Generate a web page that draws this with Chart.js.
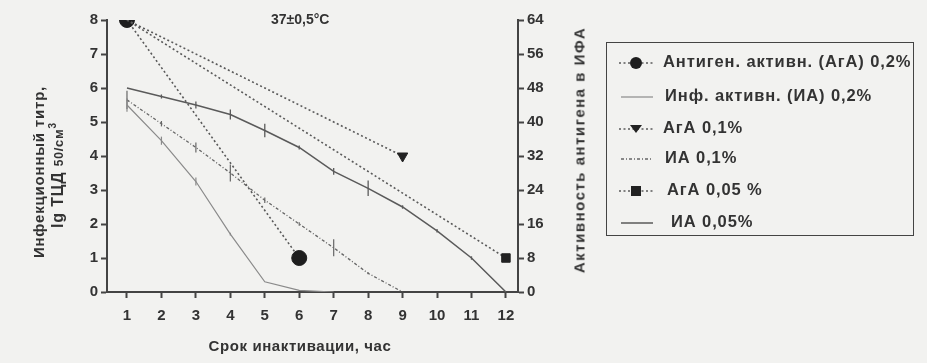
<!DOCTYPE html>
<html>
<head>
<meta charset="utf-8">
<script src="https://cdn.jsdelivr.net/npm/chart.js@4/dist/chart.umd.min.js"></script>
<style>
  html, body { margin: 0; padding: 0; background: #f2f2f0; }
  #wrap { position: relative; width: 927px; height: 363px; overflow: hidden; font-family: "Liberation Sans", Arial, sans-serif; color: #333; }
  #c { position: absolute; left: 0; top: 0; }
  .txt { position: absolute; font-weight: bold; white-space: nowrap; }
  .rot { transform-origin: center center; transform: translate(-50%, -50%) rotate(-90deg); }
  #legend { position: absolute; left: 606px; top: 42px; width: 306px; height: 192px; border: 1.5px solid #444; }
  .row { position: absolute; left: 0; height: 20px; }
  .row svg { position: absolute; left: 10px; top: 0; }
  .row span { position: absolute; left: 58px; top: -1px; font-size: 16.5px; letter-spacing: 0.9px; font-weight: bold; white-space: nowrap; color: #333; }
</style>
</head>
<body>
<div id="wrap">
  <canvas id="c" width="927" height="363"></canvas>
  <div class="txt" style="left:271px; top:11px; font-size:14px;">37±0,5°C</div>
  <div class="txt rot" style="left:38px; top:172px; font-size:15px; letter-spacing:0.8px;">Инфекционный титр,</div>
  <div class="txt rot" style="left:57px; top:175px; font-size:16px; letter-spacing:0.8px;">lg ТЦД <span style="font-size:12px;">50</span><span style="font-size:13px;">/см</span><sup style="font-size:10px;">3</sup></div>
  <div class="txt rot" style="left:579px; top:150px; font-size:15px; letter-spacing:1.5px;">Активность антигена в ИФА</div>
  <div class="txt" style="left:300px; top:345px; transform: translate(-50%, -50%); font-size:15px; letter-spacing:0.6px;">Срок инактивации, час</div>
  <div id="legend"></div>
</div>
<script>
// Hours of inactivation (x axis)
const hours = [1, 2, 3, 4, 5, 6, 7, 8, 9, 10, 11, 12];
const xTickLabels = ['1', '2', '3', '4', '5', '6', '7', '8', '9', '10', '11', '12'];

// Infectious titre, lg TCD50/cm3 (left axis) and the spread shown at each point
const ia02 = [5.5, 4.45, 3.25, 1.7, 0.3, 0.05, 0];
const ia02Err = [0.2, 0.12, 0.12, 0.04, 0, 0, 0];
const ia01 = [5.65, 4.95, 4.25, 3.5, 2.7, 2.0, 1.3, 0.55, 0];
const ia01Err = [0.27, 0.08, 0.15, 0.25, 0.08, 0.05, 0.25, 0.03, 0];
const ia005 = [6.0, 5.75, 5.5, 5.22, 4.75, 4.25, 3.55, 3.05, 2.5, 1.8, 1.0, 0];
const ia005Err = [0, 0.06, 0.1, 0.15, 0.2, 0.06, 0.1, 0.23, 0.05, 0.05, 0.05, 0];

// Antigen activity in ELISA (right axis): first and last measurement
const aga02Hours = [1, 6];
const aga02 = [64, 8];
const aga01Hours = [1, 9];
const aga01 = [64, 32];
const aga005Hours = [1, 12];
const aga005 = [64, 8];

const leftTicks = [0, 1, 2, 3, 4, 5, 6, 7, 8];
const rightTicks = [0, 8, 16, 24, 32, 40, 48, 56, 64];

const labels = [
  'Антиген. активн. (АгА) 0,2%',
  'Инф. активн. (ИА) 0,2%',
  'АгА 0,1%',
  'ИА 0,1%',
  'АгА 0,05 %',
  'ИА 0,05%'
];

const PX_PER_UNIT = 34;
const pts = (xs, ys) => ys.map((y, i) => ({ x: xs[i], y }));
const errRadius = errs => errs.map(e => e * PX_PER_UNIT);

const dark = '#444';
const mid = '#5a5a5a';

const datasets = [
  {
    label: labels[1], data: pts(hours, ia02), yAxisID: 'yL',
    borderColor: '#8a8a8a', borderWidth: 1.2,
    pointStyle: 'line', rotation: 90, pointRadius: errRadius(ia02Err),
    pointBorderColor: '#8a8a8a', pointBorderWidth: 1.2
  },
  {
    label: labels[3], data: pts(hours, ia01), yAxisID: 'yL',
    borderColor: '#666', borderWidth: 1.3, borderDash: [3, 2, 1, 2],
    pointStyle: 'line', rotation: 90, pointRadius: errRadius(ia01Err),
    pointBorderColor: '#666', pointBorderWidth: 1.2
  },
  {
    label: labels[5], data: pts(hours, ia005), yAxisID: 'yL',
    borderColor: mid, borderWidth: 1.5,
    pointStyle: 'line', rotation: 90, pointRadius: errRadius(ia005Err),
    pointBorderColor: mid, pointBorderWidth: 1.3
  },
  {
    label: labels[2], data: pts(aga01Hours, aga01), yAxisID: 'yR',
    borderColor: mid, borderWidth: 1.6, borderDash: [2, 2.5],
    pointStyle: 'triangle', rotation: 180, pointRadius: [0, 6],
    pointBackgroundColor: '#222', pointBorderColor: '#222', pointBorderWidth: 1
  },
  {
    label: labels[4], data: pts(aga005Hours, aga005), yAxisID: 'yR',
    borderColor: mid, borderWidth: 1.6, borderDash: [2, 2.5],
    pointStyle: 'rect', pointRadius: [0, 6],
    pointBackgroundColor: '#222', pointBorderColor: '#222', pointBorderWidth: 1
  },
  {
    label: labels[0], data: pts(aga02Hours, aga02), yAxisID: 'yR',
    borderColor: mid, borderWidth: 1.6, borderDash: [2, 2.5],
    pointStyle: 'circle', pointRadius: 7.5,
    pointBackgroundColor: '#1e1e1e', pointBorderColor: '#1e1e1e', pointBorderWidth: 1
  }
];

const tickFont = { family: 'Liberation Sans, Arial, sans-serif', size: 15, weight: 'bold' };
const rightFont = { family: 'Liberation Sans, Arial, sans-serif', size: 15, weight: 'bold' };

new Chart(document.getElementById('c'), {
  type: 'line',
  data: { datasets },
  options: {
    responsive: false,
    animation: false,
    events: [],
    layout: { padding: { left: 0, right: 0, top: 20, bottom: 0 } },
    plugins: { legend: { display: false }, tooltip: { enabled: false }, title: { display: false } },
    elements: { line: { tension: 0, fill: false } },
    scales: {
      x: {
        type: 'linear', position: 'bottom', min: 0.42, max: 12.35,
        afterBuildTicks: s => { s.ticks = hours.map(v => ({ value: v })); },
        afterFit: s => { s.height = 363 - 292; },
        ticks: { font: tickFont, color: '#333', padding: 9, maxRotation: 0, autoSkip: false,
                 callback: v => xTickLabels[hours.indexOf(v)] },
        grid: { drawOnChartArea: false, drawTicks: true, tickLength: 6, tickColor: dark, tickWidth: 2 },
        border: { display: true, color: dark, width: 2 }
      },
      yL: {
        type: 'linear', position: 'left', min: 0, max: 8,
        afterBuildTicks: s => { s.ticks = leftTicks.map(v => ({ value: v })); },
        afterFit: s => { s.width = 107; },
        ticks: { font: tickFont, color: '#333', padding: 3 },
        grid: { drawOnChartArea: false, drawTicks: true, tickLength: 6, tickColor: dark, tickWidth: 2 },
        border: { display: true, color: dark, width: 2 }
      },
      yR: {
        type: 'linear', position: 'right', min: 0, max: 64,
        afterBuildTicks: s => { s.ticks = rightTicks.map(v => ({ value: v })); },
        afterFit: s => { s.width = 927 - 518; },
        ticks: { font: rightFont, color: '#333', padding: 3 },
        grid: { drawOnChartArea: false, drawTicks: true, tickLength: 6, tickColor: dark, tickWidth: 2 },
        border: { display: true, color: dark, width: 2 }
      }
    }
  }
});

// Boxed legend with line samples
const samples = [
  '<line x1="2" y1="10" x2="38" y2="10" stroke="#5a5a5a" stroke-width="1.6" stroke-dasharray="2 2.5"/><circle cx="19" cy="10" r="6" fill="#1e1e1e"/>',
  '<line x1="4" y1="10" x2="36" y2="10" stroke="#8a8a8a" stroke-width="1.2"/>',
  '<line x1="2" y1="10" x2="38" y2="10" stroke="#5a5a5a" stroke-width="1.6" stroke-dasharray="2 2.5"/><polygon points="13,6 25,6 19,14" fill="#222"/>',
  '<line x1="4" y1="10" x2="36" y2="10" stroke="#666" stroke-width="1.3" stroke-dasharray="3 2 1 2"/>',
  '<line x1="2" y1="10" x2="38" y2="10" stroke="#5a5a5a" stroke-width="1.6" stroke-dasharray="2 2.5"/><rect x="14" y="5" width="10" height="10" fill="#222"/>',
  '<line x1="4" y1="10" x2="36" y2="10" stroke="#5a5a5a" stroke-width="1.5"/>'
];
const rowTops = [10, 44, 76, 106, 138, 170];
const textShift = [0, 2, 0, 2, 4, 8];
const legend = document.getElementById('legend');
labels.forEach((lab, i) => {
  const row = document.createElement('div');
  row.className = 'row';
  row.style.top = rowTops[i] + 'px';
  row.innerHTML = '<svg width="44" height="20">' + samples[i] + '</svg><span style="left:' + (56 + textShift[i]) + 'px">' + lab + '</span>';
  legend.appendChild(row);
});
</script>
</body>
</html>
